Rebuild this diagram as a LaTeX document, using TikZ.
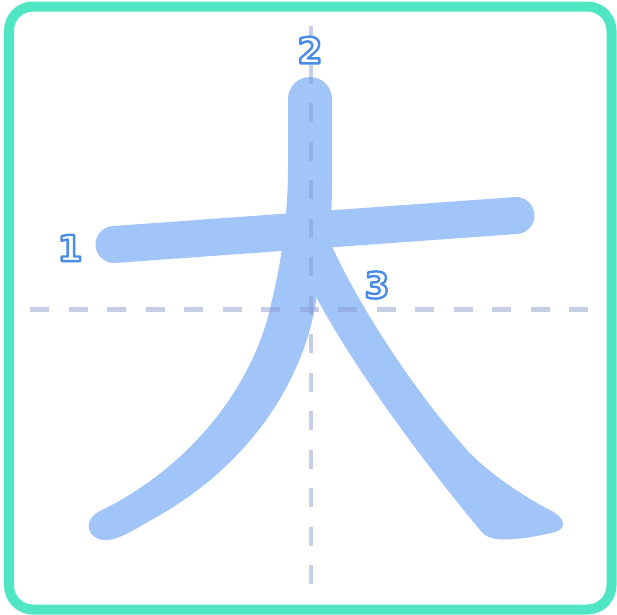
\documentclass[tikz,border=0pt]{standalone}
\usepackage{fontspec}
\usepackage{tikz}
\usepackage{xcolor}
\newfontfamily\numfont{DejaVu Sans}
\definecolor{frame}{HTML}{50E5C3}
\definecolor{ink}{HTML}{A1C5F8}
\definecolor{guideblue}{HTML}{8E9CCF}
% outlined digit: white fill, blue outline
\newcommand{\hollow}[1]{{\color{white}%
  \special{pdf:literal direct 0.29 0.545 0.9 RG 2.4 w 1 j 2 Tr}#1%
  \special{pdf:literal direct 0 Tr}}}

\begin{document}
\begin{tikzpicture}[x=1pt,y=-1pt]

\tikzstyle{brush}=[
  fill=ink,
  draw=none
]
\tikzstyle{guide}=[
  draw=guideblue,
  opacity=0.5,
  line width=4.5pt,
  dash pattern=on 19pt off 19.5pt
]
\tikzstyle{num}=[
  inner sep=0pt,
  font=\numfont\bfseries\fontsize{36}{36}\selectfont
]

\useasboundingbox (0,0) rectangle (617,614);

% Frame
\draw[frame, line width=10pt, rounded corners=24pt]
  (9,6.5) rectangle (611.5,609.5);

% Stroke 3
\fill[brush] (300,262) -- (330,242)
  .. controls (358,305) and (415,392) .. (467,450)
  .. controls (490,475) and (530,500) .. (550,510)
  .. controls (565,518) and (568,528) .. (555,532)
  .. controls (535,537) and (505,542) .. (492,538)
  .. controls (487,537) and (483,534) .. (480,530)
  .. controls (430,470) and (350,365) .. (310,285) -- cycle;

% Stroke 2
\fill[brush] (288,99) arc[start angle=180, end angle=360, radius=22]
  -- (332,180)
  .. controls (332,240) and (325,270) .. (317,295)
  .. controls (306,375) and (255,460) .. (160,515)
  .. controls (135,529) and (118,541) .. (104,540)
  .. controls (88,539) and (82,522) .. (98,512)
  .. controls (190,468) and (255,385) .. (272,300)
  .. controls (282,260) and (288,210) .. (288,170) -- cycle;

% Stroke 1
\draw[ink, line width=37pt, line cap=round] (114,244.5) -- (516,215.5);

% Guide lines
\draw[guide] (311,26) -- (311,592);
\draw[guide] (30,309.5) -- (604,309.5);

% Stroke numbers
\node[num] (n1) at (70,248) {\hollow{1}};
\node[num] (n2) at (310,50) {\hollow{2}};
\node[num] (n3) at (377,285) {\hollow{3}};

\end{tikzpicture}
\end{document}
